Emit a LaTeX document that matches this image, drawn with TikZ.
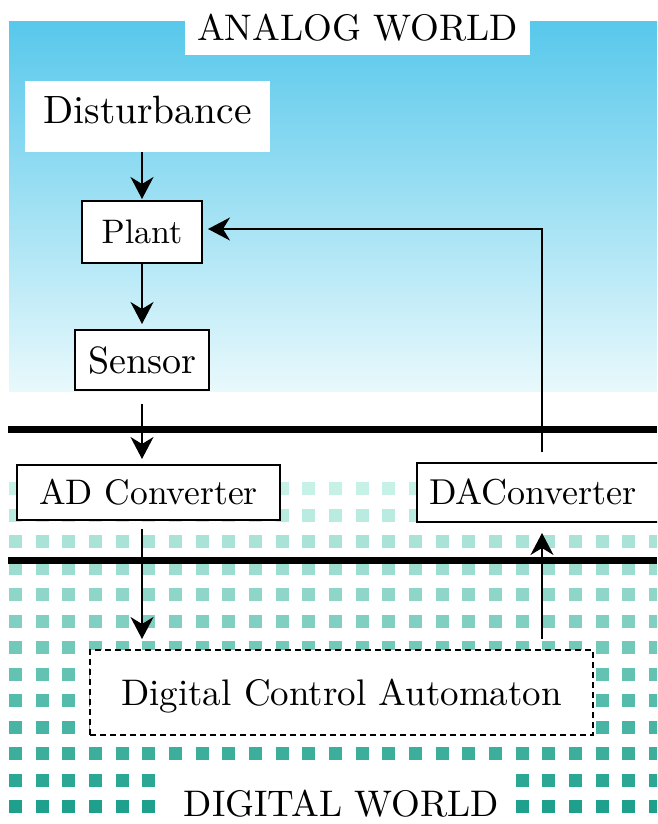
\documentclass[tikz,border=0pt]{standalone}
\usepackage{fontspec}
\setmainfont{lmroman10-regular}[Extension=.otf]
\usetikzlibrary{arrows.meta}

\definecolor{skytop}{RGB}{88,200,235}
\definecolor{skymid}{RGB}{165,228,243}
\definecolor{skybot}{RGB}{232,249,252}
\definecolor{sqdark}{RGB}{30,160,140}
\definecolor{sqlight}{RGB}{198,241,231}

\tikzset{
  blockbox/.style={draw=black, line width=2pt, fill=white, inner sep=0pt, text depth=0pt},
  plainbox/.style={fill=white, inner sep=0pt, text depth=0pt},
  flow/.style={line width=1.8pt, -{Stealth[length=22pt,width=23pt,inset=7pt]}},
  divider/.style={line width=6.5pt},
}

\begin{document}
\begin{tikzpicture}[x=1pt,y=-1pt]
  \clip (0,0) rectangle (657,824);
  \fill[white] (0,0) rectangle (657,824);

  % analog half: sky gradient
  \shade[top color=skytop, middle color=skymid, bottom color=skybot] (9,22) rectangle (657,391);

  % digital half: grid of squares, darker towards the bottom
  \foreach \i in {0,...,12}{
    \pgfmathtruncatemacro{\sqmix}{round(100*\i/12)}
    \foreach \j in {0,...,24}{
      \pgfmathtruncatemacro{\sqgap}{(\i>10)&&(\j>5)&&(\j<19)}
      \ifnum\sqgap=0
        \fill[sqdark!\sqmix!sqlight] ({15.5+26.67*\j-6.5},{488.5+26.5*\i-6.5}) rectangle +(13,13);
      \fi
    }
  }

  % boundaries between the worlds
  \draw[divider] (8,429.5) -- (657,429.5);
  \draw[divider, line width=7pt] (8,560.5) -- (657,560.5);

  % blocks
  \node[plainbox, minimum width=345pt, minimum height=55pt, text height=26pt,
        font=\fontsize{37}{40}\selectfont] (analog) at (357.5,27.5) {ANALOG WORLD};
  \node[plainbox, minimum width=245pt, minimum height=71pt, text height=27pt, text depth=12pt,
        font=\fontsize{39.5}{42}\selectfont] (dist) at (147.5,116.5) {Disturbance};
  \node[blockbox, minimum width=120pt, minimum height=62pt, text height=23.2pt,
        font=\fontsize{34}{38}\selectfont] (plant) at (142,232) {Plant};
  \node[blockbox, minimum width=134pt, minimum height=60pt, text height=26pt,
        font=\fontsize{38}{40}\selectfont] (sensor) at (142,360) {Sensor};
  \node[blockbox, minimum width=263pt, minimum height=55pt, text height=24.2pt,
        font=\fontsize{35.5}{38}\selectfont] (ad) at (148.5,492.5) {AD Converter};
  \node[blockbox, anchor=west, inner xsep=12pt, text width=250pt, align=left,
        minimum height=59pt, text height=24.6pt,
        font=\fontsize{36}{38}\selectfont] (da) at (416,492.5) {DAConverter};
  \node[blockbox, dashed, dash pattern=on 6pt off 4pt, minimum width=503pt, minimum height=85pt,
        text height=25.3pt, font=\fontsize{37}{40}\selectfont] (dca) at (341.5,692.5)
        {Digital Control Automaton};
  \node[anchor=base, inner sep=0pt, font=\fontsize{37}{40}\selectfont] (digital) at (341.5,816)
        {DIGITAL WORLD};

  % signal flow
  \coordinate (fb) at (542,0);
  \coordinate (plantin) at ([yshift=3pt]plant.east);
  \draw[flow, shorten >=1pt] (plant.north |- dist.south) -- (plant.north);
  \draw[flow, shorten >=5pt] (plant.south) -- (sensor.north);
  \draw[flow, shorten <=13pt, shorten >=5pt] (sensor.south) -- (sensor.south |- ad.north);
  \draw[flow, shorten <=8pt, shorten >=10pt] (sensor.south |- ad.south) -- (sensor.south |- dca.north);
  \draw[flow, shorten <=10pt, shorten >=10pt] (fb |- dca.north) -- (fb |- da.south);
  \draw[flow, shorten <=10pt, shorten >=5pt] (fb |- da.north) -- (fb |- plantin) -- (plantin);
\end{tikzpicture}
\end{document}
